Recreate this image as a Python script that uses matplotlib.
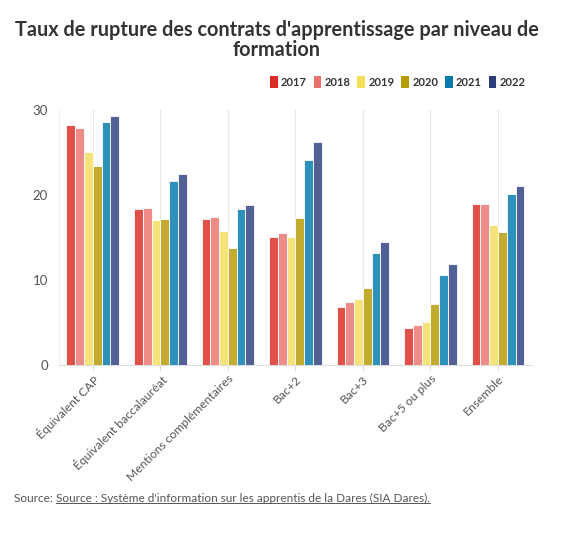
import matplotlib
matplotlib.use("Agg")
import matplotlib.pyplot as plt
from matplotlib.patches import Patch
from matplotlib.lines import Line2D
import numpy as np

plt.rcParams["font.family"] = ["Lato", "DejaVu Sans"]

categories = ["Équivalent CAP", "Équivalent baccalauréat", "Mentions complémentaires",
              "Bac+2", "Bac+3", "Bac+5 ou plus", "Ensemble"]
years = ["2017", "2018", "2019", "2020", "2021", "2022"]

v2017 = [28.2, 18.3, 17.2, 15.1, 6.8, 4.3, 18.9]
v2018 = [27.9, 18.5, 17.4, 15.5, 7.4, 4.7, 18.9]
v2019 = [25.0, 17.1, 15.8, 15.1, 7.7, 5.1, 16.5]
v2020 = [23.4, 17.2, 13.7, 17.3, 9.1, 7.2, 15.6]
v2021 = [28.6, 21.6, 18.3, 24.1, 13.2, 10.6, 20.1]
v2022 = [29.3, 22.5, 18.8, 26.2, 14.5, 11.9, 21.1]
series = [v2017, v2018, v2019, v2020, v2021, v2022]

bar_colors = ["#e2504a", "#ee8d87", "#f5e27a", "#c3ab2f", "#2d91bb", "#526195"]
legend_colors = ["#dc2a26", "#ea716c", "#f4dd58", "#b69c00", "#0779ad", "#2c3c7b"]

fig = plt.figure(figsize=(5.73, 5.39), dpi=100)
ax = fig.add_axes([0.103, 0.323, 0.825, 0.473])

x = np.arange(len(categories))
w = 0.13
for i, vals in enumerate(series):
    ax.bar(x + (i - 2.5) * w, vals, width=w, color=bar_colors[i],
           edgecolor="white", linewidth=0.6, zorder=3)

ax.set_xlim(-0.5, len(categories) - 0.5)
ax.set_ylim(0, 30)
ax.set_yticks([0, 10, 20, 30])
ax.set_xticks(x)
ax.set_xticklabels(categories, rotation=45, ha="right", rotation_mode="anchor",
                   fontsize=8.7, color="#555555")
ax.tick_params(axis="y", length=0, labelsize=9.5, colors="#555555", pad=8)
ax.tick_params(axis="x", length=4, color="#dddddd", pad=2)
ax.xaxis.grid(True, color="#e6e6e6", linewidth=0.8, zorder=0)
for side in ["top", "right", "left"]:
    ax.spines[side].set_visible(False)
ax.spines["bottom"].set_color("#dddddd")
ax.axvline(-0.5, color="#eeeeee", linewidth=0.8, zorder=0)

fig.text(0.483, 0.925, "Taux de rupture des contrats d'apprentissage par niveau de\nformation",
         ha="center", va="center", fontsize=14.3, fontweight="bold", color="#333333",
         linespacing=1.0)

handles = [Patch(facecolor=c, edgecolor="none") for c in legend_colors]
leg = fig.legend(handles, years, loc="center right", bbox_to_anchor=(0.935, 0.848), ncol=6,
                 frameon=False, handlelength=0.7, handleheight=1.2, handletextpad=0.3,
                 columnspacing=0.6, prop={"weight": "bold", "size": 8})
for t in leg.get_texts():
    t.set_color("#333333")

t1 = fig.text(0.024, 0.076, "Source: ", ha="left", va="center", fontsize=8.5, color="#555555")
fig.canvas.draw()
bb = t1.get_window_extent()
x2 = bb.x1 / fig.bbox.width
t2 = fig.text(x2, 0.076, "Source : Système d'information sur les apprentis de la Dares (SIA Dares).",
              ha="left", va="center", fontsize=8.5, color="#555555")
fig.canvas.draw()
bb2 = t2.get_window_extent()
yl = (bb2.y0 + 1) / fig.bbox.height
fig.add_artist(Line2D([bb2.x0 / fig.bbox.width, bb2.x1 / fig.bbox.width], [yl, yl],
                      color="#555555", linewidth=0.7, transform=fig.transFigure))

fig.savefig("out.png", dpi=100)
